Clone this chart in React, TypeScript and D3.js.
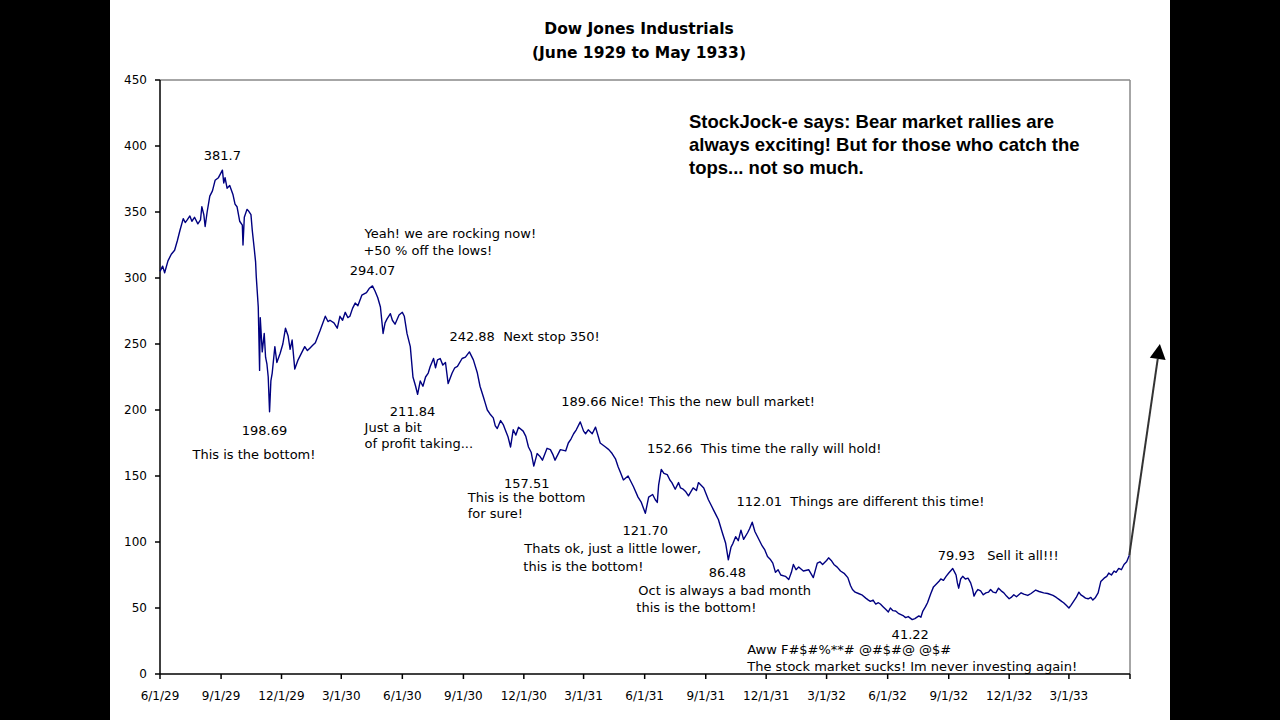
import React from "react";
import * as d3 from "d3";

// ---- Data ----
const dates: string[] = [
  "1929-06-01","1929-06-05","1929-06-08","1929-06-13","1929-06-18","1929-06-23","1929-06-27","1929-07-01","1929-07-06","1929-07-09",
  "1929-07-12","1929-07-16","1929-07-19","1929-07-23","1929-07-28","1929-08-01","1929-08-03","1929-08-06","1929-08-08","1929-08-11",
  "1929-08-15","1929-08-19","1929-08-23","1929-08-28","1929-09-03","1929-09-05","1929-09-07","1929-09-10","1929-09-14","1929-09-19",
  "1929-09-22","1929-09-25","1929-09-29","1929-10-03","1929-10-04","1929-10-06","1929-10-10","1929-10-12","1929-10-16","1929-10-18",
  "1929-10-21","1929-10-23","1929-10-24","1929-10-27","1929-10-29","1929-10-30","1929-11-02","1929-11-05","1929-11-07","1929-11-09",
  "1929-11-11","1929-11-13","1929-11-15","1929-11-17","1929-11-21","1929-11-24","1929-11-29","1929-12-03","1929-12-07","1929-12-11",
  "1929-12-14","1929-12-17","1929-12-21","1929-12-26","1930-01-01","1930-01-05","1930-01-09","1930-01-13","1930-01-17","1930-01-21",
  "1930-01-28","1930-02-05","1930-02-09","1930-02-12","1930-02-18","1930-02-23","1930-02-27","1930-03-03","1930-03-07","1930-03-11",
  "1930-03-14","1930-03-18","1930-03-22","1930-03-26","1930-04-01","1930-04-08","1930-04-12","1930-04-17","1930-04-21","1930-04-25",
  "1930-04-29","1930-05-03","1930-05-06","1930-05-09","1930-05-14","1930-05-17","1930-05-21","1930-05-27","1930-06-01","1930-06-04",
  "1930-06-08","1930-06-13","1930-06-17","1930-06-21","1930-06-24","1930-06-28","1930-07-02","1930-07-06","1930-07-10","1930-07-13",
  "1930-07-18","1930-07-21","1930-07-24","1930-07-28","1930-08-01","1930-08-05","1930-08-09","1930-08-15","1930-08-19","1930-08-23",
  "1930-08-30","1930-09-04","1930-09-10","1930-09-13","1930-09-16","1930-09-22","1930-09-26","1930-10-01","1930-10-04","1930-10-07",
  "1930-10-11","1930-10-16","1930-10-19","1930-10-22","1930-10-27","1930-10-31","1930-11-03","1930-11-07","1930-11-11","1930-11-15",
  "1930-11-19","1930-11-23","1930-11-30","1930-12-04","1930-12-08","1930-12-12","1930-12-16","1930-12-21","1930-12-25","1930-12-29",
  "1931-01-05","1931-01-10","1931-01-14","1931-01-17","1931-01-21","1931-01-25","1931-02-02","1931-02-06","1931-02-10","1931-02-14",
  "1931-02-18","1931-02-24","1931-03-01","1931-03-04","1931-03-08","1931-03-14","1931-03-19","1931-03-26","1931-04-03","1931-04-08",
  "1931-04-13","1931-04-18","1931-04-22","1931-04-26","1931-04-30","1931-05-07","1931-05-11","1931-05-15","1931-05-22","1931-05-27",
  "1931-06-02","1931-06-07","1931-06-13","1931-06-17","1931-06-20","1931-06-22","1931-06-26","1931-06-30","1931-07-05","1931-07-09",
  "1931-07-12","1931-07-17","1931-07-22","1931-07-25","1931-07-29","1931-08-02","1931-08-06","1931-08-13","1931-08-18","1931-08-21",
  "1931-08-25","1931-08-29","1931-09-05","1931-09-09","1931-09-13","1931-09-17","1931-09-20","1931-09-26","1931-10-01","1931-10-05",
  "1931-10-09","1931-10-12","1931-10-16","1931-10-20","1931-10-24","1931-10-28","1931-11-03","1931-11-06","1931-11-10","1931-11-14",
  "1931-11-18","1931-11-25","1931-11-29","1931-12-03","1931-12-07","1931-12-11","1931-12-15","1931-12-19","1931-12-23","1931-12-30",
  "1932-01-04","1932-01-08","1932-01-11","1932-01-15","1932-01-19","1932-01-26","1932-02-03","1932-02-10","1932-02-16","1932-02-20",
  "1932-02-24","1932-03-01","1932-03-04","1932-03-08","1932-03-12","1932-03-17","1932-03-22","1932-03-28","1932-04-02","1932-04-06",
  "1932-04-09","1932-04-13","1932-04-18","1932-04-23","1932-04-29","1932-05-03","1932-05-06","1932-05-10","1932-05-14","1932-05-18",
  "1932-05-21","1932-05-25","1932-05-29","1932-06-02","1932-06-05","1932-06-09","1932-06-13","1932-06-17","1932-06-21","1932-06-25",
  "1932-06-28","1932-07-02","1932-07-08","1932-07-12","1932-07-18","1932-07-21","1932-07-24","1932-07-28","1932-07-31","1932-08-05",
  "1932-08-09","1932-08-13","1932-08-17","1932-08-20","1932-08-24","1932-08-28","1932-09-01","1932-09-07","1932-09-10","1932-09-12",
  "1932-09-14","1932-09-16","1932-09-19","1932-09-22","1932-09-26","1932-09-30","1932-10-04","1932-10-07","1932-10-09","1932-10-12",
  "1932-10-15","1932-10-19","1932-10-23","1932-10-27","1932-10-31","1932-11-03","1932-11-07","1932-11-11","1932-11-15","1932-11-19",
  "1932-11-23","1932-11-27","1932-12-01","1932-12-04","1932-12-08","1932-12-12","1932-12-19","1932-12-23","1932-12-29","1933-01-03",
  "1933-01-10","1933-01-15","1933-01-22","1933-01-28","1933-02-05","1933-02-10","1933-02-14","1933-02-18","1933-02-21","1933-02-25",
  "1933-03-01","1933-03-04","1933-03-08","1933-03-12","1933-03-16","1933-03-19","1933-03-22","1933-03-26","1933-03-30","1933-04-03",
  "1933-04-06","1933-04-10","1933-04-14","1933-04-18","1933-04-23","1933-04-27","1933-04-30","1933-05-04","1933-05-08","1933-05-11",
  "1933-05-15","1933-05-19","1933-05-23","1933-05-27","1933-05-31"
];

const values: number[] = [
  305,309,304,313,318,321,328,336,345,342,
  344,347,343,346,341,344,354,348,339,350,
  362,366,374,376,381.7,372,376,368,370,363,
  356,354,343,340,325,346,352,351,348,336,
  322,312,301,278,230,270,244,258,240,235,
  225,198.69,222,228,248,236,243,250,262,256,
  246,253,231,238,244,248,245,247,249,251,
  260,271,267,268,266,262,271,268,274,270,
  271,277,281,279,287,289,292,294,290,285,
  278,258,266,269,273,268,265,272,274,271,
  258,248,225,218,211.84,222,218,225,228,233,
  239,232,238,239,234,236,220,228,232,233,
  239,240,244,241,238,228,218,210,205,200,
  197,194,188,186,192,189,185,180,172,185,
  181,187,184,180,172,168,157.5,167,165,162,
  171,170,166,162,166,170,169,175,178,182,
  185,191,184,182,185,182,187,175,172,170,
  167,163,157,152,147,150,146,142,134,130,
  121.7,134,136,132,130,143,155,152,151,147,
  145,140,145,141,140,138,135,141,139,145,
  143,141,132,128,124,120,117,107,99,86.5,
  96,99,104,101,109,102,107,110,115,108,
  104,97,94,89,87,84,77,79,75,74,
  71.5,77,83,79,81,78,79,73,84,85,
  83,86,88,86,83,81,78,76,73,67,
  64,62,61,60,57.5,56,55,56,53,54,
  53,51,49,47,50,48,47.7,46,45,44,
  42.7,43.5,41.2,42,44,43,47.7,51,54,61,
  66,68,70,72,71,74,76.5,79.9,77,75,
  69,65,72,74,72,72.6,69,64,59,62,
  64,63,60,61.5,62,64,62,61.5,65,63,
  61.5,59,57,58,60,58.5,61.5,60.5,59.5,61,
  63.6,62.5,61.5,61,59.5,58,56.5,55,54,52,
  50,52,55,58,62,60,59,57.5,57,58,
  56,58,61.5,70,72.6,74,76.5,75,78,77,
  80,79,83,85,90
];

const yTickValues: number[] = [0, 50, 100, 150, 200, 250, 300, 350, 400, 450];
const xTickDates: string[] = [
  "1929-06-01","1929-09-01","1929-12-01","1930-03-01","1930-06-01","1930-09-01","1930-12-01","1931-03-01",
  "1931-06-01","1931-09-01","1931-12-01","1932-03-01","1932-06-01","1932-09-01","1932-12-01","1933-03-01","1933-06-01"
];
const xTickLabels: string[] = [
  "6/1/29","9/1/29","12/1/29","3/1/30","6/1/30","9/1/30","12/1/30","3/1/31",
  "6/1/31","9/1/31","12/1/31","3/1/32","6/1/32","9/1/32","12/1/32","3/1/33",""
];

const titleLines: string[] = ["Dow Jones Industrials", "(June 1929 to May 1933)"];
const commentLines: string[] = [
  "StockJock-e says: Bear market rallies are",
  "always exciting! But for those who catch the",
  "tops... not so much."
];

// annotation anchors (data coordinates) with their text lines
const annotationDates: string[] = ["1929-09-03","1929-11-13","1930-04-17","1930-06-24","1930-09-10","1930-12-16","1931-02-24","1931-06-02","1931-06-27","1931-10-05","1931-11-09","1932-07-08","1932-09-07"];
const annotationValues: number[] = [381.7, 198.69, 294.07, 211.84, 242.88, 157.51, 191, 121.7, 155, 86.48, 115, 41.22, 79.93];
const annotationTexts: string[][] = [
  ["381.7"],
  ["198.69", "This is the bottom!"],
  ["294.07", "+50 % off the lows!", "Yeah! we are rocking now!"],
  ["211.84", "Just a bit", "of profit taking..."],
  ["242.88  Next stop 350!"],
  ["157.51", "This is the bottom", "for sure!"],
  ["189.66 Nice! This the new bull market!"],
  ["121.70", "Thats ok, just a little lower,", "this is the bottom!"],
  ["152.66  This time the rally will hold!"],
  ["86.48", "Oct is always a bad month", "this is the bottom!"],
  ["112.01  Things are different this time!"],
  ["41.22", "Aww F#$#%**# @#$#@ @$#", "The stock market sucks! Im never investing again!"],
  ["79.93   Sell it all!!!"]
];
const arrowTargetDate = "1933-07-16";
const arrowTargetValue = 250;

// ---- layout / style ----
const W = 1280, H = 720;
const M = { left: 160, right: 1130, top: 80, bottom: 674 };
const FONT_SMALL = "'DejaVu Sans', Verdana, sans-serif";
const FONT_BOLD = "'Liberation Sans', Arial, Helvetica, sans-serif";
const LINE_COLOR = "#000080";

// text offsets relative to anchor points (pixels)
const annotationOffsets: [number, number, string][][] = [
  [[0, -15, "middle"]],
  [[-5, 19, "middle"], [-77, 43, "start"]],
  [[0, -15, "middle"], [-9, -35, "start"], [-8, -52, "start"]],
  [[-5, 17, "middle"], [-53, 33, "start"], [-53, 49, "start"]],
  [[-20, -17, "start"]],
  [[-7, 17, "middle"], [-66, 31, "start"], [-66, 47, "start"]],
  [[-19, -20, "start"]],
  [[0, 17, "middle"], [-121, 35, "start"], [-122, 53, "start"]],
  [[-15, -21, "start"]],
  [[-1, 13, "middle"], [-90, 31, "start"], [-92, 48, "start"]],
  [[-15, -21, "start"]],
  [[-2, 15, "middle"], [-165, 30, "start"], [-165, 47, "start"]],
  [[-15, -13, "start"]]
];

export default function App() {
  const parse = d3.timeParse("%Y-%m-%d");
  const pts = dates.map((d, i) => ({ d: parse(d) as Date, v: values[i] }));

  const x = d3.scaleTime()
    .domain([parse("1929-06-01") as Date, parse("1933-06-01") as Date])
    .range([M.left, M.right]);
  const y = d3.scaleLinear().domain([0, 450]).range([M.bottom, M.top]);

  const line = d3.line<{ d: Date; v: number }>()
    .x((p) => x(p.d))
    .y((p) => y(p.v));

  const last = pts[pts.length - 1];
  const ax0 = x(last.d), ay0 = y(last.v);
  const ax1 = x(parse(arrowTargetDate) as Date), ay1 = y(arrowTargetValue);
  const ang = Math.atan2(ay1 - ay0, ax1 - ax0);
  const headLen = 15, headHalf = 8;
  const bx = ax1 - headLen * Math.cos(ang), by = ay1 - headLen * Math.sin(ang);
  const px = -Math.sin(ang), py = Math.cos(ang);
  const head = `M${ax1},${ay1} L${bx + px * headHalf},${by + py * headHalf} L${bx - px * headHalf},${by - py * headHalf} Z`;

  return (
    <svg width={W} height={H} style={{ position: "absolute", left: 0, top: 0, display: "block" }}>
      <rect x={0} y={0} width={W} height={H} fill="#000" />
      <rect x={110} y={0} width={1060} height={H} fill="#fff" />

      {titleLines.map((t, i) => (
        <text key={t} x={639} y={29 + i * 24} textAnchor="middle" dominantBaseline="central" fontFamily={FONT_SMALL} fontWeight="bold" fontSize={15.5} fill="#000">{t}</text>
      ))}

      {/* plot frame */}
      <line x1={M.left} x2={M.right} y1={M.top} y2={M.top} stroke="#888" strokeWidth={1.5} />
      <line x1={M.right} x2={M.right} y1={M.top} y2={M.bottom} stroke="#888" strokeWidth={1.5} />
      <line x1={M.left} x2={M.left} y1={M.top} y2={M.bottom} stroke="#000" strokeWidth={1.5} />
      <line x1={M.left} x2={M.right} y1={M.bottom} y2={M.bottom} stroke="#000" strokeWidth={1.5} />

      {yTickValues.map((v) => (
        <g key={v}>
          <line x1={M.left - 5} x2={M.left} y1={y(v)} y2={y(v)} stroke="#000" strokeWidth={1.5} />
          <text x={147} y={y(v)} textAnchor="end" dominantBaseline="central" fontFamily={FONT_SMALL} fontSize={12} fill="#000">{v}</text>
        </g>
      ))}
      {xTickDates.map((d, i) => {
        const xx = x(parse(d) as Date);
        return (
          <g key={d}>
            <line x1={xx} x2={xx} y1={M.bottom} y2={M.bottom + 5} stroke="#000" strokeWidth={1.5} />
            <text x={xx} y={696} textAnchor="middle" dominantBaseline="central" fontFamily={FONT_SMALL} fontSize={12} fill="#000">{xTickLabels[i]}</text>
          </g>
        );
      })}

      <path d={line(pts) || ""} fill="none" stroke={LINE_COLOR} strokeWidth={1.4} strokeLinejoin="round" />

      {/* arrow */}
      <line x1={ax0} y1={ay0} x2={bx} y2={by} stroke="#333" strokeWidth={2} />
      <path d={head} fill="#000" />

      {annotationDates.map((d, i) => {
        const axp = x(parse(d) as Date), ayp = y(annotationValues[i]);
        return (
          <g key={d}>
            {annotationTexts[i].map((t, j) => {
              const [dx, dy, anchor] = annotationOffsets[i][j];
              return (
                <text key={j} x={axp + dx} y={ayp + dy} textAnchor={anchor as any} dominantBaseline="central" fontFamily={FONT_SMALL} fontSize={13} fill="#000" style={{ whiteSpace: "pre" }}>{t}</text>
              );
            })}
          </g>
        );
      })}

      {commentLines.map((t, i) => (
        <text key={t} x={689} y={121 + i * 23} dominantBaseline="central" fontFamily={FONT_BOLD} fontWeight="bold" fontSize={18.5} fill="#000">{t}</text>
      ))}
    </svg>
  );
}
